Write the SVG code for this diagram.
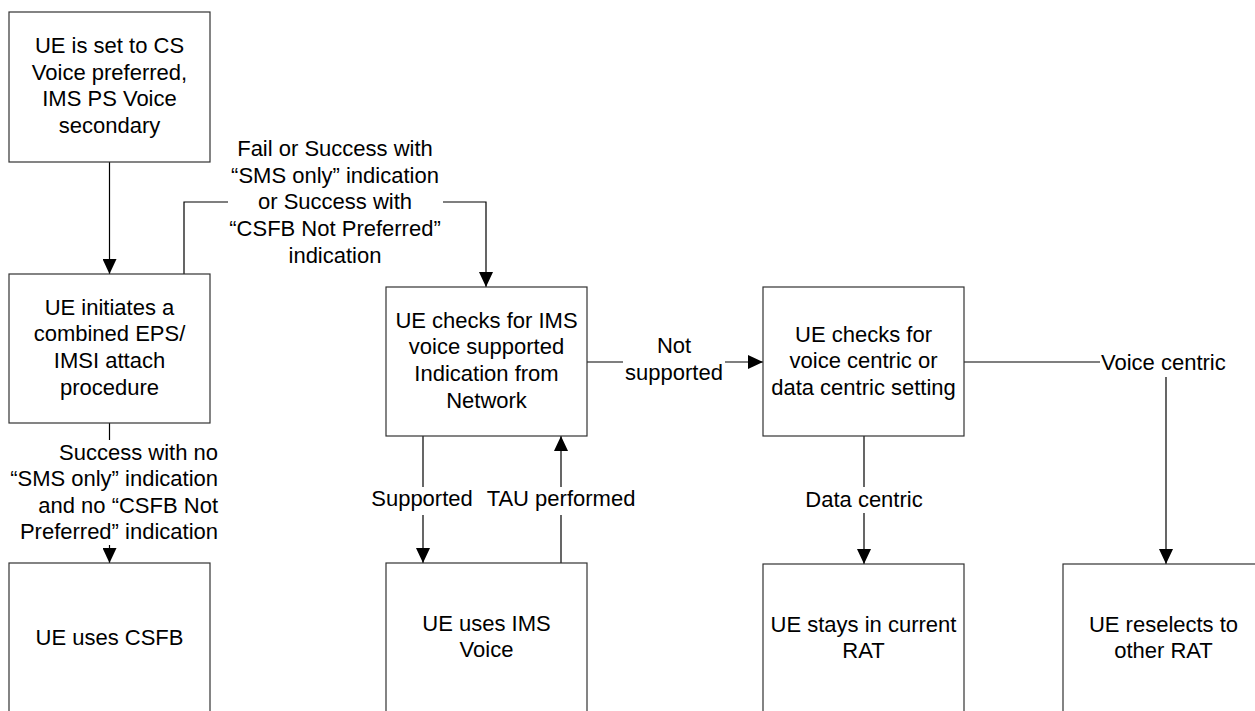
<svg xmlns="http://www.w3.org/2000/svg" width="1255" height="711" viewBox="0 0 1255 711">
<defs>
<style>
.box{fill:#fff;stroke:#333;stroke-width:1.2}
.ln{fill:none;stroke:#000;stroke-width:1.2}
text{font-family:"Liberation Sans",Arial,sans-serif;font-size:22px;fill:#000}
.c{text-anchor:middle}
.e{text-anchor:end}
</style>
<marker id="ah" markerWidth="15" markerHeight="14" refX="15" refY="7" orient="auto" markerUnits="userSpaceOnUse">
<path d="M0,0 L15,7 L0,14 Z" fill="#000"/>
</marker>
</defs>
<rect width="1255" height="711" fill="#fff"/>
<g id="connectors">
<line class="ln" x1="109.5" y1="162" x2="109.5" y2="274" marker-end="url(#ah)"/>
<polyline class="ln" points="184,274 184,202 228,202"/>
<polyline class="ln" points="443,202 486,202 486,287" marker-end="url(#ah)"/>
<text class="c" x="335" y="156">Fail or Success with</text>
<text class="c" x="335" y="183">“SMS only” indication</text>
<text class="c" x="335" y="209">or Success with</text>
<text class="c" x="335" y="236">“CSFB Not Preferred”</text>
<text class="c" x="335" y="263">indication</text>
<line class="ln" x1="109.5" y1="423" x2="109.5" y2="440"/>
<line class="ln" x1="109.5" y1="545" x2="109.5" y2="563" marker-end="url(#ah)"/>
<text class="e" x="218" y="460">Success with no</text>
<text class="e" x="218" y="486">“SMS only” indication</text>
<text class="e" x="218" y="513">and no “CSFB Not</text>
<text class="e" x="218" y="539">Preferred” indication</text>
<line class="ln" x1="423" y1="436" x2="423" y2="487"/>
<line class="ln" x1="423" y1="515" x2="423" y2="563" marker-end="url(#ah)"/>
<text class="c" x="422" y="506">Supported</text>
<line class="ln" x1="561" y1="563" x2="561" y2="515"/>
<line class="ln" x1="561" y1="487" x2="561" y2="436" marker-end="url(#ah)"/>
<text class="c" x="561" y="506">TAU performed</text>
<line class="ln" x1="587" y1="362" x2="623" y2="362"/>
<line class="ln" x1="725" y1="362" x2="763" y2="362" marker-end="url(#ah)"/>
<text class="c" x="674" y="353">Not</text>
<text class="c" x="674" y="380">supported</text>
<line class="ln" x1="964" y1="362" x2="1100" y2="362"/>
<text x="1101" y="369.5">Voice centric</text>
<line class="ln" x1="1166" y1="377" x2="1166" y2="564" marker-end="url(#ah)"/>
<line class="ln" x1="864" y1="436" x2="864" y2="487"/>
<line class="ln" x1="864" y1="513" x2="864" y2="564" marker-end="url(#ah)"/>
<text class="c" x="864" y="507">Data centric</text>
</g>
<g id="n1">
<rect class="box" x="9" y="12" width="201" height="150"/>
<text class="c" x="109.5" y="53">UE is set to CS</text>
<text class="c" x="109.5" y="80">Voice preferred,</text>
<text class="c" x="109.5" y="106">IMS PS Voice</text>
<text class="c" x="109.5" y="133">secondary</text>
</g>
<g id="n2">
<rect class="box" x="9" y="274" width="201" height="149"/>
<text class="c" x="109.5" y="315">UE initiates a</text>
<text class="c" x="109.5" y="341">combined EPS/</text>
<text class="c" x="109.5" y="368">IMSI attach</text>
<text class="c" x="109.5" y="395">procedure</text>
</g>
<g id="n3">
<rect class="box" x="9" y="563" width="201" height="160"/>
<text class="c" x="109.5" y="645">UE uses CSFB</text>
</g>
<g id="n4">
<rect class="box" x="386" y="287" width="201" height="149"/>
<text class="c" x="486.5" y="328">UE checks for IMS</text>
<text class="c" x="486.5" y="354">voice supported</text>
<text class="c" x="486.5" y="381">Indication from</text>
<text class="c" x="486.5" y="408">Network</text>
</g>
<g id="n5">
<rect class="box" x="386" y="563" width="201" height="160"/>
<text class="c" x="486.5" y="631">UE uses IMS</text>
<text class="c" x="486.5" y="657">Voice</text>
</g>
<g id="n6">
<rect class="box" x="763" y="287" width="201" height="149"/>
<text class="c" x="863.5" y="342">UE checks for</text>
<text class="c" x="863.5" y="368">voice centric or</text>
<text class="c" x="863.5" y="395">data centric setting</text>
</g>
<g id="n7">
<rect class="box" x="763" y="564" width="201" height="160"/>
<text class="c" x="863.5" y="632">UE stays in current</text>
<text class="c" x="863.5" y="658">RAT</text>
</g>
<g id="n8">
<rect class="box" x="1063" y="564" width="201" height="160"/>
<text class="c" x="1163.5" y="632">UE reselects to</text>
<text class="c" x="1163.5" y="658">other RAT</text>
</g>
</svg>
